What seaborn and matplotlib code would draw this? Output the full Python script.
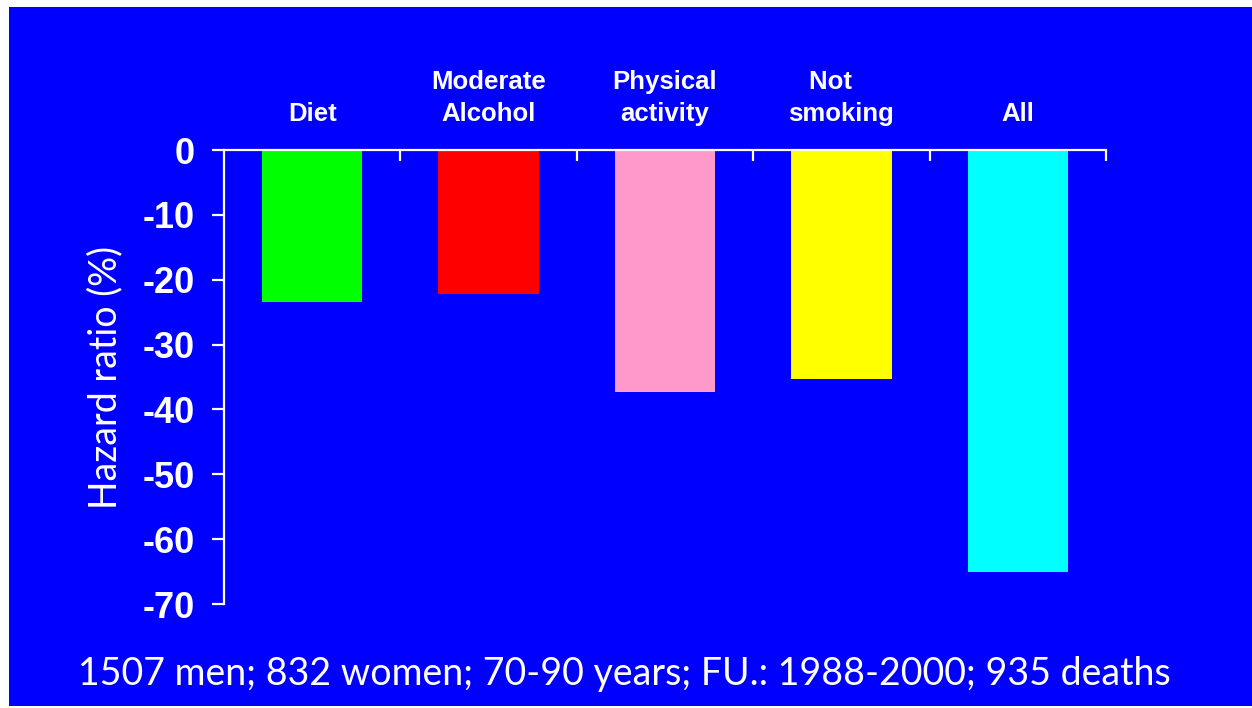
import matplotlib
matplotlib.use("Agg")
import matplotlib.pyplot as plt
from matplotlib.patches import Rectangle
import seaborn as sns
import pandas as pd

# data
categories = ["Diet", "Moderate\nAlcohol", "Physical\nactivity", "Not   \nsmoking", "All"]
hazard = [-23.4, -22.2, -37.3, -35.3, -65.1]
colors = ["#00FF00", "#FF0000", "#FF99CC", "#FFFF00", "#00FFFF"]
yticks = [0, -10, -20, -30, -40, -50, -60, -70]
note = "1507 men; 832 women; 70-90 years; FU.: 1988-2000; 935 deaths"

bg = "#0000FF"
sns.set_style("ticks")
plt.rcParams["font.family"] = ["Liberation Sans", "DejaVu Sans"]

df = pd.DataFrame({"cat": categories, "hr": hazard})

fig = plt.figure(figsize=(12.52, 7.08), dpi=100, facecolor="white")
# blue slide area with thin white border
fig.patches.append(Rectangle((9 / 1252, 0.003), 1 - 9 / 1252, 1 - 7 / 708 - 0.003,
                             transform=fig.transFigure, facecolor=bg,
                             edgecolor="none", zorder=-10))
ax = fig.add_axes([224 / 1252, 104 / 708, (1106 - 224) / 1252, (604 - 150) / 708])
ax.set_facecolor(bg)

sns.barplot(data=df, x="cat", y="hr", hue="cat", palette=colors, legend=False,
            width=0.57, saturation=1, linewidth=0, ax=ax)

ax.set_xlim(-0.5, 4.5)
ax.set_ylim(-70, 0)

for s in ["bottom", "right"]:
    ax.spines[s].set_visible(False)
for s in ["top", "left"]:
    ax.spines[s].set_color("white")
    ax.spines[s].set_linewidth(1.6)

# categories on top, boundary ticks pointing down
ax.xaxis.tick_top()
ax.set_xticks(range(len(categories)))
ax.set_xticklabels(categories, fontsize=18.5, fontweight="bold", color="white",
                   linespacing=1.45)
ax.tick_params(axis="x", which="major", length=0, pad=17)
ax.set_xticks([0.5, 1.5, 2.5, 3.5, 4.5], minor=True)
ax.tick_params(axis="x", which="minor", direction="in", length=8, width=1.6,
               color="white")
ax.set_xlabel("")

ax.set_yticks(yticks)
ax.set_yticklabels([str(t) for t in yticks], fontsize=26, fontweight="bold",
                   color="white")
ax.tick_params(axis="y", direction="out", length=9, width=1.6, color="white", pad=12)
ax.set_ylabel("Hazard ratio (%)", family=["Lato", "DejaVu Sans"], fontsize=27,
              color="white", labelpad=14)

fig.text(624 / 1252, 23 / 708, note, family=["Lato", "DejaVu Sans"], fontsize=27,
         color="white", ha="center", va="baseline")

fig.savefig("out.png", dpi=100, facecolor=fig.get_facecolor())
